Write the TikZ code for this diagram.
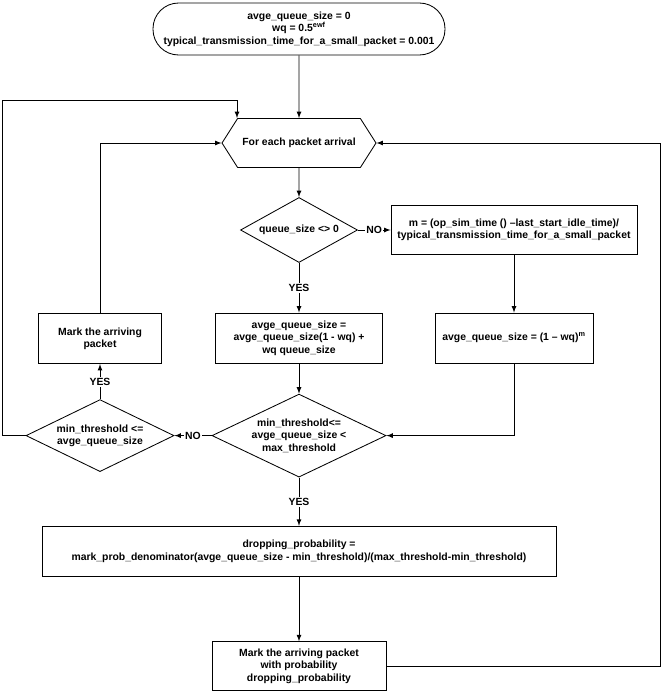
\documentclass[tikz,border=0pt]{standalone}
\usepackage{fontspec}
\setmainfont{Liberation Sans}
\usetikzlibrary{shapes.geometric,shapes.symbols,positioning}
\tikzset{every node/.style={align=center}, >= latex, font=\bfseries\fontsize{7.4}{8.8}\selectfont}
\tikzset{
  term/.style={draw, rectangle, rounded corners=0.64cm, minimum width=7.3cm, minimum height=1.3cm},
  hexa/.style={draw, signal, signal to=west and east, signal pointer angle=115, minimum width=3.85cm, minimum height=1.225cm},
  proc/.style={draw, rectangle, minimum height=1.25cm},
  decision/.style={draw, diamond, aspect=2, inner sep=0pt},
  yn/.style={fill=white, inner sep=1pt}
}

\begin{document}
\begin{tikzpicture}[node distance=2.5cm, line width=0.6pt]
\useasboundingbox (0,0) rectangle (16.575,-17.35);
\node [term] (init) at (7.475,-0.725) {avge\_queue\_size = 0\\wq = 0.5\textsuperscript{ewf}\\typical\_transmission\_time\_for\_a\_small\_packet = 0.001};
\node [hexa] (arr) [below of = init, node distance=2.85cm] {For each packet arrival};
\node [decision, minimum width=2.925cm, minimum height=1.625cm] (q) [below of = arr, node distance=2.175cm] {queue\_size <> 0};
\node [proc, minimum width=6.15cm, minimum height=1.225cm] (m) [right of = q, node distance=5.375cm] {m = (op\_sim\_time () –last\_start\_idle\_time)/\\typical\_transmission\_time\_for\_a\_small\_packet};
\node [proc, minimum width=4.175cm] (avg1) [below of = q, node distance=2.7cm] {avge\_queue\_size =\\avge\_queue\_size(1 - wq) +\\wq queue\_size};
\node [proc, minimum width=3.95cm] (avg2) [below of = m, node distance=2.7cm] {avge\_queue\_size = (1 – wq)\textsuperscript{m}};
\node [decision, minimum width=4.35cm, minimum height=2.075cm] (th) [below of = avg1, node distance=2.44cm] {min\_threshold<=\\avge\_queue\_size <\\max\_threshold};
\node [decision, minimum width=3.7cm, minimum height=1.8cm] (minth) [left of = th, node distance=4.975cm] {min\_threshold <=\\avge\_queue\_size};
\node [proc, minimum width=3.075cm] (mark) [above of = minth, node distance=2.425cm] {Mark the arriving\\packet};
\node [proc, minimum width=12.85cm] (drop) [below of = th, node distance=2.89cm] {dropping\_probability =\\mark\_prob\_denominator(avge\_queue\_size - min\_threshold)/(max\_threshold-min\_threshold)};
\node [proc, minimum width=4.35cm, minimum height=1.225cm] (markp) [below of = drop, node distance=2.875cm] {Mark the arriving packet\\with probability\\dropping\_probability};

\path[->] (init) edge (arr)
    (arr) edge (q)
    (q) edge node [yn] {NO} (m)
        edge node [yn] {YES} (avg1)
    (m) edge (avg2)
    (avg1) edge (th)
    (th) edge node [yn] {NO} (minth)
         edge node [yn] {YES} (drop)
    (minth) edge node [yn] {YES} (mark)
    (drop) edge (markp);
\draw[->] (avg2.south) |- (th.east);
\draw[->] (mark.north) |- (arr.west);
\draw[->] (markp.east) -- ++(6.85cm,0) |- (arr.east);
\draw[->] (minth.west) -- ++(-0.575cm,0) |- ([xshift=-1.55cm,yshift=0.45cm]arr.north) -- ([xshift=-1.55cm]arr.north);
\end{tikzpicture}
\end{document}
